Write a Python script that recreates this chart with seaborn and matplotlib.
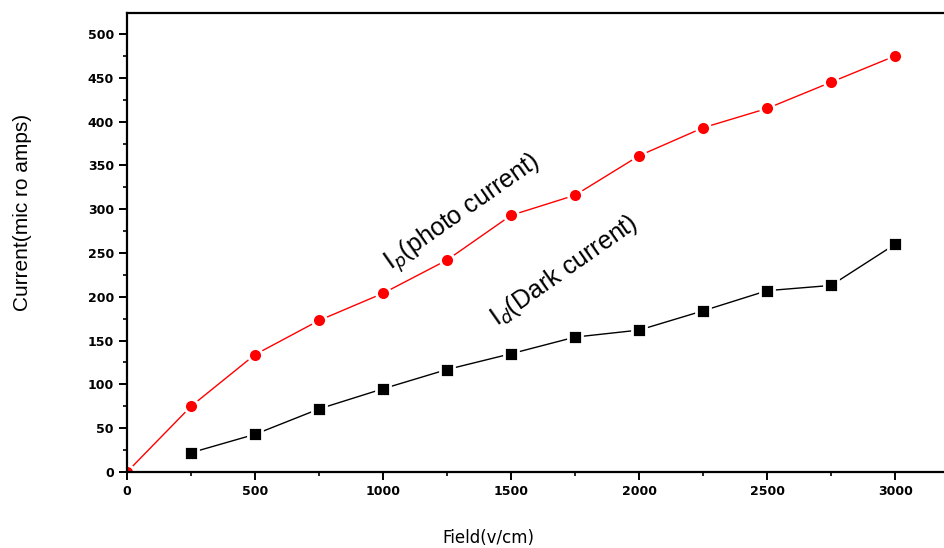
import matplotlib
matplotlib.use("Agg")
import matplotlib.pyplot as plt
import numpy as np
import pandas as pd
import seaborn as sns
from matplotlib.ticker import MultipleLocator

# values
field_photo = [0, 250, 500, 750, 1000, 1250, 1500, 1750, 2000, 2250, 2500, 2750, 3000]
photo_current = [0, 75, 134, 173, 204, 242, 293, 316, 361, 393, 415, 445, 475]

field_dark = [250, 500, 750, 1000, 1250, 1500, 1750, 2000, 2250, 2500, 2750, 3000]
dark_current = [22, 43, 72, 95, 117, 135, 154, 162, 184, 207, 213, 260]

sns.set_theme(style="ticks")
plt.rcParams["font.family"] = ["DejaVu Sans"]
plt.rcParams["text.color"] = "black"
plt.rcParams["axes.labelcolor"] = "black"

fig = plt.figure(figsize=(9.45, 5.48), dpi=100)
ax = fig.add_axes([0.1344, 0.1387, 0.87, 0.8376])

photo = pd.DataFrame({"field": field_photo, "current": photo_current})
dark = pd.DataFrame({"field": field_dark, "current": dark_current})

sns.lineplot(data=photo, x="field", y="current", ax=ax, color="red",
             linewidth=1.0, marker="o", markersize=10,
             markerfacecolor="red", markeredgecolor="white", markeredgewidth=2.0)
sns.lineplot(data=dark, x="field", y="current", ax=ax, color="black",
             linewidth=1.0, marker="s", markersize=10,
             markerfacecolor="black", markeredgecolor="white", markeredgewidth=2.0)

ax.set_xlim(0, 3211)
ax.set_ylim(0, 524)
ax.xaxis.set_major_locator(MultipleLocator(500))
ax.xaxis.set_minor_locator(MultipleLocator(250))
ax.yaxis.set_major_locator(MultipleLocator(50))
ax.yaxis.set_minor_locator(MultipleLocator(25))

for s in ax.spines.values():
    s.set_linewidth(1.6)
    s.set_color("black")
ax.tick_params(which="major", length=6, width=1.4, direction="out", colors="black",
               labelsize=9)
ax.tick_params(which="minor", length=3, width=1.2, direction="out", colors="black")
for lab in ax.get_xticklabels() + ax.get_yticklabels():
    lab.set_fontweight("bold")

ax.set_xlabel("Field(v/cm)", fontsize=12)
ax.set_ylabel("Current(mic ro amps)", fontsize=15,
              family=["Liberation Sans Narrow", "Liberation Sans", "DejaVu Sans"])
ax.xaxis.set_label_coords(0.44, -0.125)
ax.yaxis.set_label_coords(-0.115, 0.566)

ax.text(1055, 220, r"I$_p$(photo current)", rotation=35, rotation_mode="anchor",
        ha="left", va="bottom", fontsize=18,
        family=["Liberation Sans", "DejaVu Sans"])
ax.text(1460, 160, r"I$_d$(Dark current)", rotation=35, rotation_mode="anchor",
        ha="left", va="bottom", fontsize=18,
        family=["Liberation Sans", "DejaVu Sans"])

fig.savefig("out.png", dpi=100)
